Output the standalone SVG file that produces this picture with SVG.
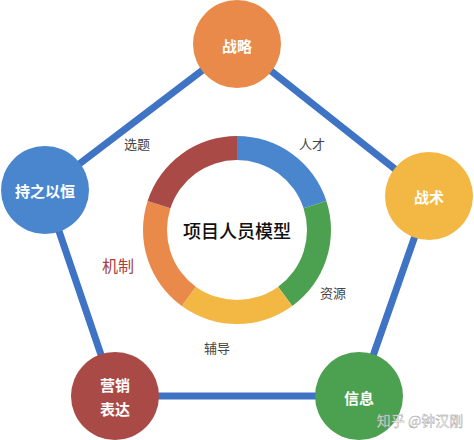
<svg xmlns="http://www.w3.org/2000/svg" width="474" height="440" viewBox="0 0 474 440">
<style>
.node-text{font-family:"Noto Sans CJK SC","Noto Sans",sans-serif;font-size:15px;font-weight:bold;fill:#ffffff;text-anchor:middle;dominant-baseline:central}
.label{font-family:"Noto Sans CJK SC","Noto Sans",sans-serif;font-size:13px;fill:#444444;text-anchor:middle;dominant-baseline:central}
.edge{stroke:#3F73C4;stroke-width:7;fill:none}
</style>
<rect width="474" height="440" fill="#ffffff"/>
<g id="connectors">
<path class="edge" d="M237,44 L429,196 L359,396 L115,396 L45,190 Z"/>
</g>
<g id="ring">
<path d="M237,136 A94,94 0 0 1 326.4,200.95 L303.58,208.37 A70,70 0 0 0 237,160 Z" fill="#4A86CE"/>
<path d="M326.4,200.95 A94,94 0 0 1 292.25,306.05 L278.15,286.63 A70,70 0 0 0 303.58,208.37 Z" fill="#4CA150"/>
<path d="M292.25,306.05 A94,94 0 0 1 181.75,306.05 L195.85,286.63 A70,70 0 0 0 278.15,286.63 Z" fill="#F3B844"/>
<path d="M181.75,306.05 A94,94 0 0 1 147.6,200.95 L170.42,208.37 A70,70 0 0 0 195.85,286.63 Z" fill="#E98A4A"/>
<path d="M147.6,200.95 A94,94 0 0 1 237,136 L237,160 A70,70 0 0 0 170.42,208.37 Z" fill="#AA4A47"/>
<text x="237" y="230" font-family="Noto Sans CJK SC, Noto Sans, sans-serif" font-size="18" font-weight="500" fill="#111111" text-anchor="middle" dominant-baseline="central">项目人员模型</text>
</g>
<g id="node-zhanlue">
<circle cx="237" cy="44" r="44" fill="#E98A4A"/>
<text class="node-text" x="237" y="45">战略</text>
</g>
<g id="node-zhanshu">
<circle cx="429" cy="196" r="44" fill="#F3B844"/>
<text class="node-text" x="429" y="196">战术</text>
</g>
<g id="node-xinxi">
<circle cx="359" cy="396" r="44" fill="#4CA150"/>
<text class="node-text" x="359" y="397">信息</text>
</g>
<g id="node-yingxiao">
<circle cx="115" cy="396" r="44" fill="#AA4A47"/>
<text class="node-text" x="115" y="384">营销</text>
<text class="node-text" x="115" y="408">表达</text>
</g>
<g id="node-chizhi">
<circle cx="45" cy="190" r="44" fill="#4A86CE"/>
<text class="node-text" x="45" y="190">持之以恒</text>
</g>
<g id="labels">
<text class="label" x="137" y="143">选题</text>
<text class="label" x="312" y="143">人才</text>
<text class="label" x="333" y="292">资源</text>
<text class="label" x="217" y="347">辅导</text>
<text x="118" y="265" font-family="Noto Sans CJK SC, Noto Sans, sans-serif" font-size="16" fill="#A8403C" text-anchor="middle" dominant-baseline="central">机制</text>
</g>
<text x="420" y="420" font-family="Noto Sans CJK SC, Noto Sans, sans-serif" font-size="14" fill="#ffffff" stroke="#9a9a9a" stroke-width="0.4" fill-opacity="0.85" text-anchor="middle" dominant-baseline="central">知乎 @钟汉刚</text>
</svg>
